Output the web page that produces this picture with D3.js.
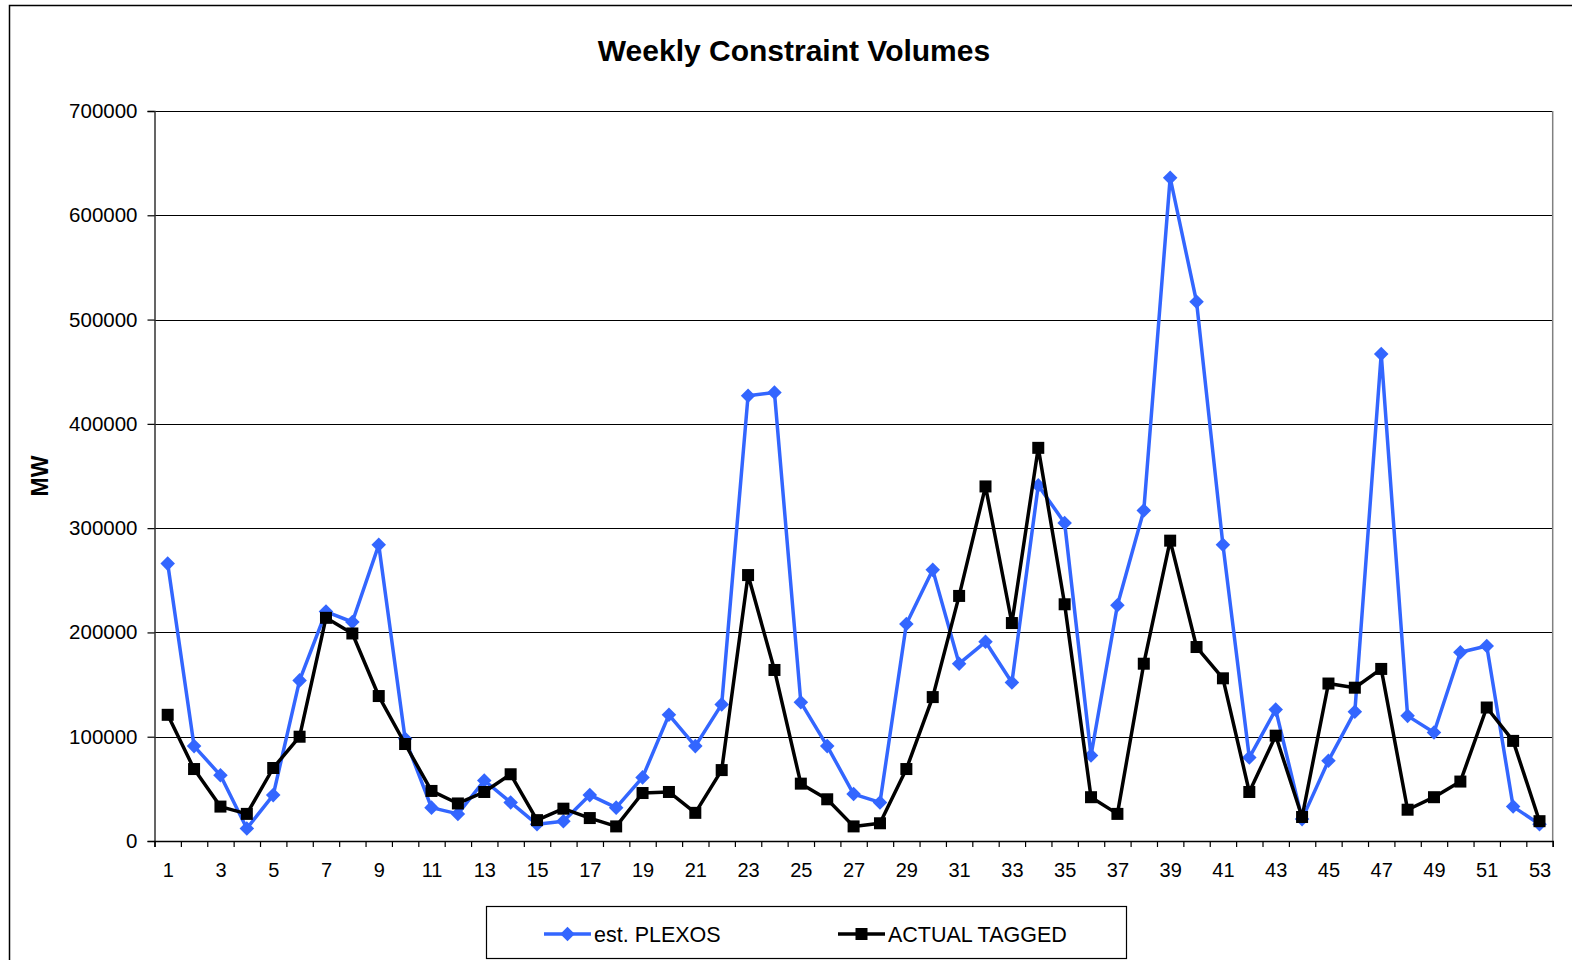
<!DOCTYPE html>
<html>
<head>
<meta charset="utf-8">
<script src="https://cdn.jsdelivr.net/npm/d3@7"></script>
<style>
  html, body { margin: 0; padding: 0; background: #fff; }
  svg { display: block; font-family: "Liberation Sans", Arial, sans-serif; }
</style>
</head>
<body>
<svg id="chart" width="1572" height="960"></svg>
<script>
const weeks = [1,2,3,4,5,6,7,8,9,10,11,12,13,14,15,16,17,18,19,20,21,22,23,24,25,26,27,28,29,30,31,32,33,34,35,36,37,38,39,40,41,42,43,44,45,46,47,48,49,50,51,52,53];
const plexos = [266000, 91000, 63000, 12000, 44000, 154000, 220000, 210000, 284000, 98000,
                32000, 26000, 58000, 37000, 16000, 19000, 44000, 32000, 61000, 121000,
                91000, 131000, 427000, 430000, 133000, 91000, 45000, 37000, 208000, 260000,
                170000, 191000, 152000, 341000, 305000, 82000, 226000, 317000, 636000, 517000,
                284000, 80000, 126000, 21000, 77000, 124000, 467000, 120000, 104000, 181000,
                187000, 33000, 16000];
const actual = [121000, 69000, 33000, 26000, 70000, 100000, 214000, 199000, 139000, 93000,
                48000, 36000, 47000, 64000, 20000, 31000, 22000, 14000, 46000, 47000,
                27000, 68000, 255000, 164000, 55000, 40000, 14000, 17000, 69000, 138000,
                235000, 340000, 209000, 377000, 227000, 42000, 26000, 170000, 288000, 186000,
                156000, 47000, 101000, 23000, 151000, 147000, 165000, 30000, 42000, 57000,
                128000, 96000, 19000];
const yTicks = [0, 100000, 200000, 300000, 400000, 500000, 600000, 700000];
const xLabelWeeks = [1,3,5,7,9,11,13,15,17,19,21,23,25,27,29,31,33,35,37,39,41,43,45,47,49,51,53];
const seriesNames = ["est. PLEXOS", "ACTUAL TAGGED"];
const seriesColors = ["#3366ff", "#000000"];

const svg = d3.select("#chart");
const L = 154.5, R = 1552.7, T = 111, B = 841;

// outer chart frame
svg.append("rect").attr("x", 9.5).attr("y", 5.5).attr("width", 1600).attr("height", 1000)
  .attr("fill", "#fff").attr("stroke", "#000").attr("stroke-width", 1.5);

const x = d3.scaleLinear().domain([0.5, weeks.length + 0.5]).range([L, R]);
const y = d3.scaleLinear().domain([0, 700000]).range([B, T]);

// gridlines
svg.append("g").selectAll("line").data(yTicks.filter(v => v > 0)).join("line")
  .attr("x1", L).attr("x2", R)
  .attr("y1", d => Math.round(y(d)) + 0.5).attr("y2", d => Math.round(y(d)) + 0.5)
  .attr("stroke", "#000").attr("stroke-width", 1.2);

// right plot border
svg.append("line").attr("x1", R).attr("x2", R).attr("y1", T).attr("y2", B)
  .attr("stroke", "#808080").attr("stroke-width", 1.5);

// y axis
const yAxis = d3.axisLeft(y).tickValues(yTicks).tickFormat(d3.format("d")).tickSize(7).tickPadding(10);
const gy = svg.append("g").attr("transform", `translate(${L},0)`).call(yAxis);
gy.select(".domain").attr("stroke", "#333").attr("stroke-width", 1.5);
gy.selectAll(".tick line").attr("stroke", "#000").attr("stroke-width", 1.2);
gy.selectAll(".tick text").attr("font-size", 20.5).attr("fill", "#000")
  .attr("font-family", "'Liberation Sans', Arial, sans-serif");

// x axis: tick marks at category boundaries
const boundaries = weeks.map(w => w - 0.5).concat([weeks.length + 0.5]);
const xTickAxis = d3.axisBottom(x).tickValues(boundaries).tickFormat("").tickSize(6);
const gx = svg.append("g").attr("transform", `translate(0,${B})`).call(xTickAxis);
gx.select(".domain").attr("stroke", "#000").attr("stroke-width", 1.5);
gx.selectAll(".tick line").attr("stroke", "#000").attr("stroke-width", 1.2);

// x labels
const xLabelAxis = d3.axisBottom(x).tickValues(xLabelWeeks).tickFormat(d3.format("d")).tickSize(0).tickPadding(22);
const gxl = svg.append("g").attr("transform", `translate(0,${B})`).call(xLabelAxis);
gxl.select(".domain").remove();
gxl.selectAll(".tick text").attr("font-size", 20).attr("fill", "#000")
  .attr("font-family", "'Liberation Sans', Arial, sans-serif");

// title
svg.append("text").attr("x", 794).attr("y", 61).attr("text-anchor", "middle")
  .attr("font-size", 30).attr("font-weight", "bold").text("Weekly Constraint Volumes");

// y axis title
svg.append("text").attr("transform", "translate(48,476) rotate(-90)").attr("text-anchor", "middle")
  .attr("font-size", 23).attr("font-weight", "bold").text("MW");

const line = d3.line().x((d, i) => x(weeks[i])).y(d => y(d));

// PLEXOS series
svg.append("path").datum(plexos).attr("d", line).attr("fill", "none")
  .attr("stroke", seriesColors[0]).attr("stroke-width", 3.5).attr("stroke-linejoin", "round");
const diamond = d3.symbol().type(d3.symbolDiamond2).size(135);
svg.append("g").selectAll("path").data(plexos).join("path")
  .attr("transform", (d, i) => `translate(${x(weeks[i])},${y(d)})`)
  .attr("d", diamond).attr("fill", seriesColors[0]);

// ACTUAL series
svg.append("path").datum(actual).attr("d", line).attr("fill", "none")
  .attr("stroke", seriesColors[1]).attr("stroke-width", 3.5).attr("stroke-linejoin", "round");
svg.append("g").selectAll("rect").data(actual).join("rect")
  .attr("x", (d, i) => x(weeks[i]) - 6).attr("y", d => y(d) - 6)
  .attr("width", 12).attr("height", 12).attr("fill", seriesColors[1]);

// legend
const lg = svg.append("g");
lg.append("rect").attr("x", 486.5).attr("y", 906.5).attr("width", 640).attr("height", 52)
  .attr("fill", "#fff").attr("stroke", "#000").attr("stroke-width", 1.2);
const legendItems = [
  {x0: 544, name: seriesNames[0], color: seriesColors[0], kind: "diamond"},
  {x0: 838, name: seriesNames[1], color: seriesColors[1], kind: "square"}
];
const ly = 934;
legendItems.forEach(it => {
  lg.append("line").attr("x1", it.x0).attr("x2", it.x0 + 47).attr("y1", ly).attr("y2", ly)
    .attr("stroke", it.color).attr("stroke-width", 3.5);
  if (it.kind === "diamond") {
    lg.append("path").attr("d", diamond).attr("transform", `translate(${it.x0 + 23.5},${ly})`).attr("fill", it.color);
  } else {
    lg.append("rect").attr("x", it.x0 + 23.5 - 6).attr("y", ly - 6).attr("width", 12).attr("height", 12).attr("fill", it.color);
  }
  lg.append("text").attr("x", it.x0 + 50).attr("y", ly).attr("dy", "0.35em")
    .attr("font-size", 21.5).text(it.name);
});
</script>
</body>
</html>
